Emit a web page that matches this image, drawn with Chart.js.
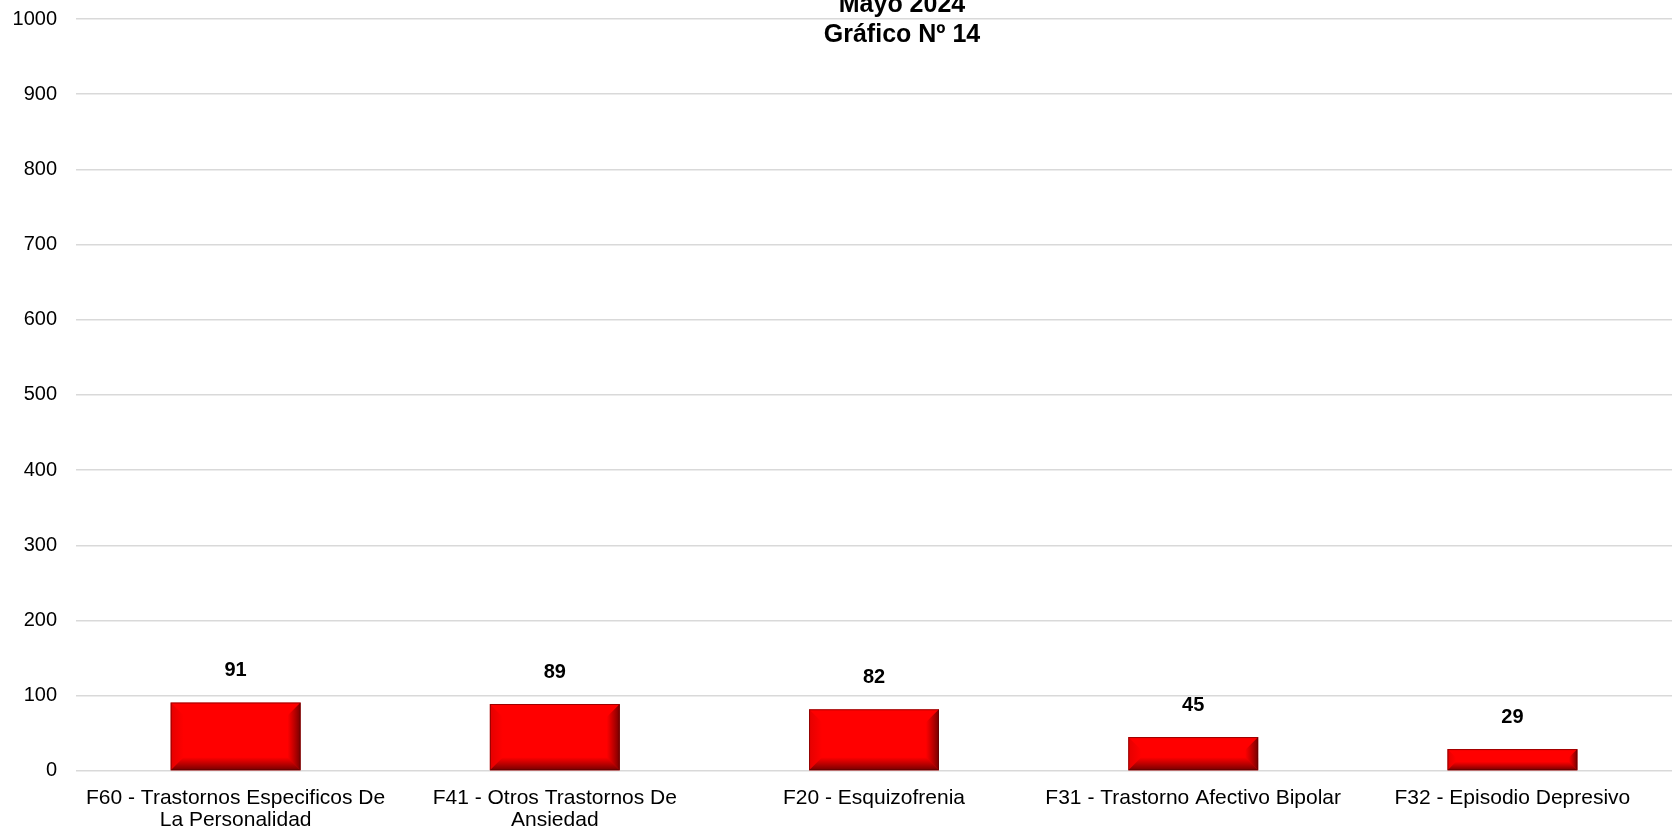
<!DOCTYPE html>
<html>
<head>
<meta charset="utf-8">
<script src="https://cdn.jsdelivr.net/npm/chart.js@4.4.1/dist/chart.umd.min.js"></script>
<style>
  html, body { margin: 0; padding: 0; background: #fff; }
  #wrap { width: 1672px; height: 831px; }
</style>
</head>
<body>
<div id="wrap"><canvas id="grafico"></canvas></div>
<script>
const categorias = [
  ['F60 - Trastornos Especificos De', 'La Personalidad'],
  ['F41 - Otros Trastornos De', 'Ansiedad'],
  'F20 - Esquizofrenia',
  'F31 - Trastorno Afectivo Bipolar',
  'F32 - Episodio Depresivo'
];
const valores = [91, 89, 82, 45, 29];
const tituloLineas = ['Mayo 2024', 'Gráfico Nº 14'];
const ejeMax = 1000;
const ejePaso = 100;

const fuente = '"Liberation Sans", Arial, sans-serif';

// etiquetas de valor encima de cada barra
const etiquetasValor = {
  id: 'etiquetasValor',
  afterDatasetsDraw(chart) {
    const ctx = chart.ctx;
    const meta = chart.getDatasetMeta(0);
    ctx.save();
    ctx.font = 'bold 20px ' + fuente;
    ctx.fillStyle = '#000';
    ctx.textAlign = 'center';
    ctx.textBaseline = 'alphabetic';
    meta.data.forEach((bar, i) => {
      ctx.fillText(valores[i], bar.x, bar.y - 26);
    });
    ctx.restore();
  }
};

// efecto biselado de las barras
const bisel = {
  id: 'bisel',
  afterDatasetsDraw(chart) {
    const ctx = chart.ctx;
    const meta = chart.getDatasetMeta(0);
    ctx.save();
    meta.data.forEach(bar => {
      const l = bar.x - bar.width / 2, r = bar.x + bar.width / 2;
      const t = bar.y, b = bar.base;
      const h = b - t;
      const s = Math.min(13, h / 2.5);
      // franja inferior
      let g = ctx.createLinearGradient(0, b - s, 0, b);
      g.addColorStop(0, 'rgba(120,0,0,0)');
      g.addColorStop(1, 'rgba(100,0,0,0.9)');
      ctx.fillStyle = g;
      ctx.beginPath();
      ctx.moveTo(l, b); ctx.lineTo(l + s, b - s); ctx.lineTo(r - s, b - s); ctx.lineTo(r, b);
      ctx.closePath(); ctx.fill();
      // franja derecha
      g = ctx.createLinearGradient(r - s, 0, r, 0);
      g.addColorStop(0, 'rgba(120,0,0,0)');
      g.addColorStop(1, 'rgba(90,0,0,0.85)');
      ctx.fillStyle = g;
      ctx.beginPath();
      ctx.moveTo(r, t); ctx.lineTo(r - s, t + s); ctx.lineTo(r - s, b - s); ctx.lineTo(r, b);
      ctx.closePath(); ctx.fill();
      // franja izquierda
      g = ctx.createLinearGradient(l, 0, l + s, 0);
      g.addColorStop(0, 'rgba(150,0,0,0.25)');
      g.addColorStop(1, 'rgba(150,0,0,0)');
      ctx.fillStyle = g;
      ctx.beginPath();
      ctx.moveTo(l, t); ctx.lineTo(l + s, t + s); ctx.lineTo(l + s, b - s); ctx.lineTo(l, b);
      ctx.closePath(); ctx.fill();
      // borde
      ctx.strokeStyle = 'rgba(90,0,0,0.6)';
      ctx.lineWidth = 1;
      ctx.strokeRect(l + 0.5, t + 0.5, r - l - 1, b - t - 1);
    });
    ctx.restore();
  }
};

// titulo en dos lineas, cortado arriba como en el original
const titulo = {
  id: 'titulo',
  afterDraw(chart) {
    const ctx = chart.ctx;
    ctx.save();
    ctx.font = 'bold 25px ' + fuente;
    ctx.fillStyle = '#000';
    ctx.textAlign = 'center';
    ctx.textBaseline = 'alphabetic';
    ctx.fillText(tituloLineas[0], 902, 12);
    ctx.fillText(tituloLineas[1], 902, 42);
    ctx.restore();
  }
};

new Chart(document.getElementById('grafico'), {
  type: 'bar',
  data: {
    labels: categorias,
    datasets: [{
      data: valores,
      backgroundColor: '#ff0000',
      borderWidth: 0,
      barPercentage: 0.407,
      categoryPercentage: 1
    }]
  },
  options: {
    responsive: true,
    maintainAspectRatio: false,
    animation: false,
    layout: { padding: { top: 19, right: 0, left: 0, bottom: -8 } },
    plugins: {
      legend: { display: false },
      tooltip: { enabled: false },
      title: { display: false }
    },
    scales: {
      x: {
        grid: { display: false },
        border: { display: false },
        ticks: {
          color: '#000',
          font: { family: fuente, size: 21, lineHeight: 1.05 },
          maxRotation: 0,
          autoSkip: false,
          padding: 8
        }
      },
      y: {
        min: 0,
        max: ejeMax,
        border: { display: false },
        grid: { color: '#d9d9d9', lineWidth: 1.5, drawTicks: false },
        afterFit(scale) {
          scale.width = 76;
          scale.paddingTop = 0;
          scale.paddingBottom = 0;
        },
        ticks: {
          stepSize: ejePaso,
          color: '#000',
          font: { family: fuente, size: 20 },
          padding: 19,
          callback: v => String(v)
        }
      }
    }
  },
  plugins: [bisel, etiquetasValor, titulo]
});
</script>
</body>
</html>
